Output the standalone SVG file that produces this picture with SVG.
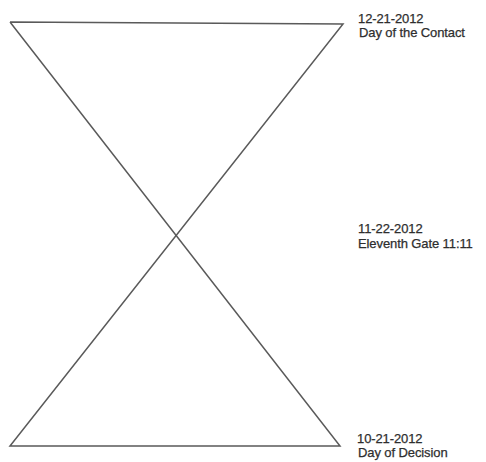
<svg xmlns="http://www.w3.org/2000/svg" width="486" height="462" viewBox="0 0 486 462">
<style>
.ln{fill:none;stroke:#5a5a5a;stroke-width:1.5;stroke-linejoin:miter}
.t{font-family:"Liberation Sans",Arial,sans-serif;font-size:13px;fill:#2e2e2e;letter-spacing:-0.1px;stroke:#2e2e2e;stroke-width:0.25}
</style>
<rect width="486" height="462" fill="#fff"/>
<g id="hourglass">
<polyline class="ln" points="10,22 343,24 10,446 340,446 10,22"/>
</g>
<g id="label-top">
<text class="t" x="358" y="23">12-21-2012</text>
<text class="t" x="359" y="37">Day of the Contact</text>
</g>
<g id="label-middle">
<text class="t" x="358" y="233">11-22-2012</text>
<text class="t" x="358" y="248">Eleventh Gate 11:11</text>
</g>
<g id="label-bottom">
<text class="t" x="357" y="443">10-21-2012</text>
<text class="t" x="358" y="457">Day of Decision</text>
</g>
</svg>
